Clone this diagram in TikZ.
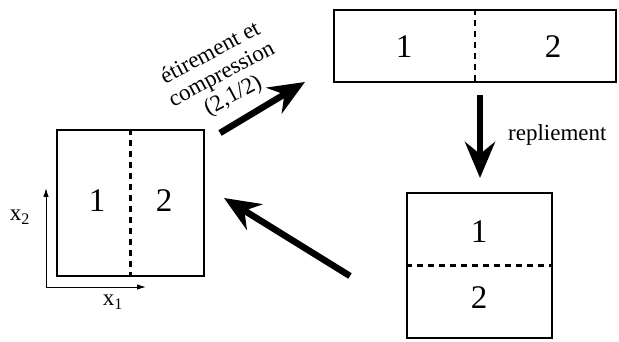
\documentclass[tikz,border=0pt]{standalone}
\usepackage{fontspec}
\setmainfont{Liberation Serif}
\usetikzlibrary{arrows.meta}
\begin{document}
\begin{tikzpicture}[x=1pt,y=-1pt,
  box/.style={draw,line width=2.4pt,inner sep=0pt},
  divider/.style={line width=2.2pt,dash pattern=on 6.5pt off 4.5pt},
  bigarrow/.style={line width=6.5pt,-{Stealth[length=36pt,width=30pt,inset=12pt]}},
  axis/.style={line width=1pt,-{Latex[length=9pt,width=5.5pt]}},
  num/.style={font=\fontsize{33}{35}\selectfont},
  lab/.style={font=\fontsize{23}{24}\selectfont}]
\useasboundingbox (0,0) rectangle (619,342);
% boxes
\node[box,minimum width=147pt,minimum height=146pt] (L) at (130.5,203) {};
\node[box,minimum width=282pt,minimum height=72pt] (T) at (475,46) {};
\node[box,minimum width=145pt,minimum height=145pt] (B) at (479.5,265.5) {};
% dividers
\draw[divider] (L.north) -- (L.south);
\draw[divider] (T.north) -- (T.south);
\draw[divider] (B.west) -- (B.east);
% numbers
\node[num] (L1) at (97,201) {1};
\node[num] (L2) at (164,201) {2};
\node[num] (T1) at (404,47) {1};
\node[num] (T2) at (553,47) {2};
\node[num] (B1) at (479,232) {1};
\node[num] (B2) at (479,298) {2};
% axes
\coordinate (O) at (46,287);
\coordinate (X1) at (146,287);
\coordinate (X2) at (46,188);
\draw[axis] (O) -- (X1);
\draw[axis] (O) -- (X2);
\node[lab] (x1) at (113,302) {x\textsubscript{1}};
\node[lab] (x2) at (20,217) {x\textsubscript{2}};
% big arrows
\coordinate (a1s) at (220,133);
\coordinate (a1e) at (305,82);
\draw[bigarrow] (a1s) -- (a1e);
\coordinate (a2s) at (480,95);
\coordinate (a2e) at (480,178);
\draw[bigarrow] (a2s) -- (a2e);
\coordinate (a3s) at (350,276);
\coordinate (a3e) at (224,198);
\draw[bigarrow] (a3s) -- (a3e);
% labels
\node[lab,rotate=28,align=center,inner sep=0pt] (stretch) at (222,75) {étirement et\\compression\\(2,1/2)};
\node[lab,anchor=west,inner sep=0pt] (fold) at (508,135) {repliement};
\end{tikzpicture}
\end{document}
